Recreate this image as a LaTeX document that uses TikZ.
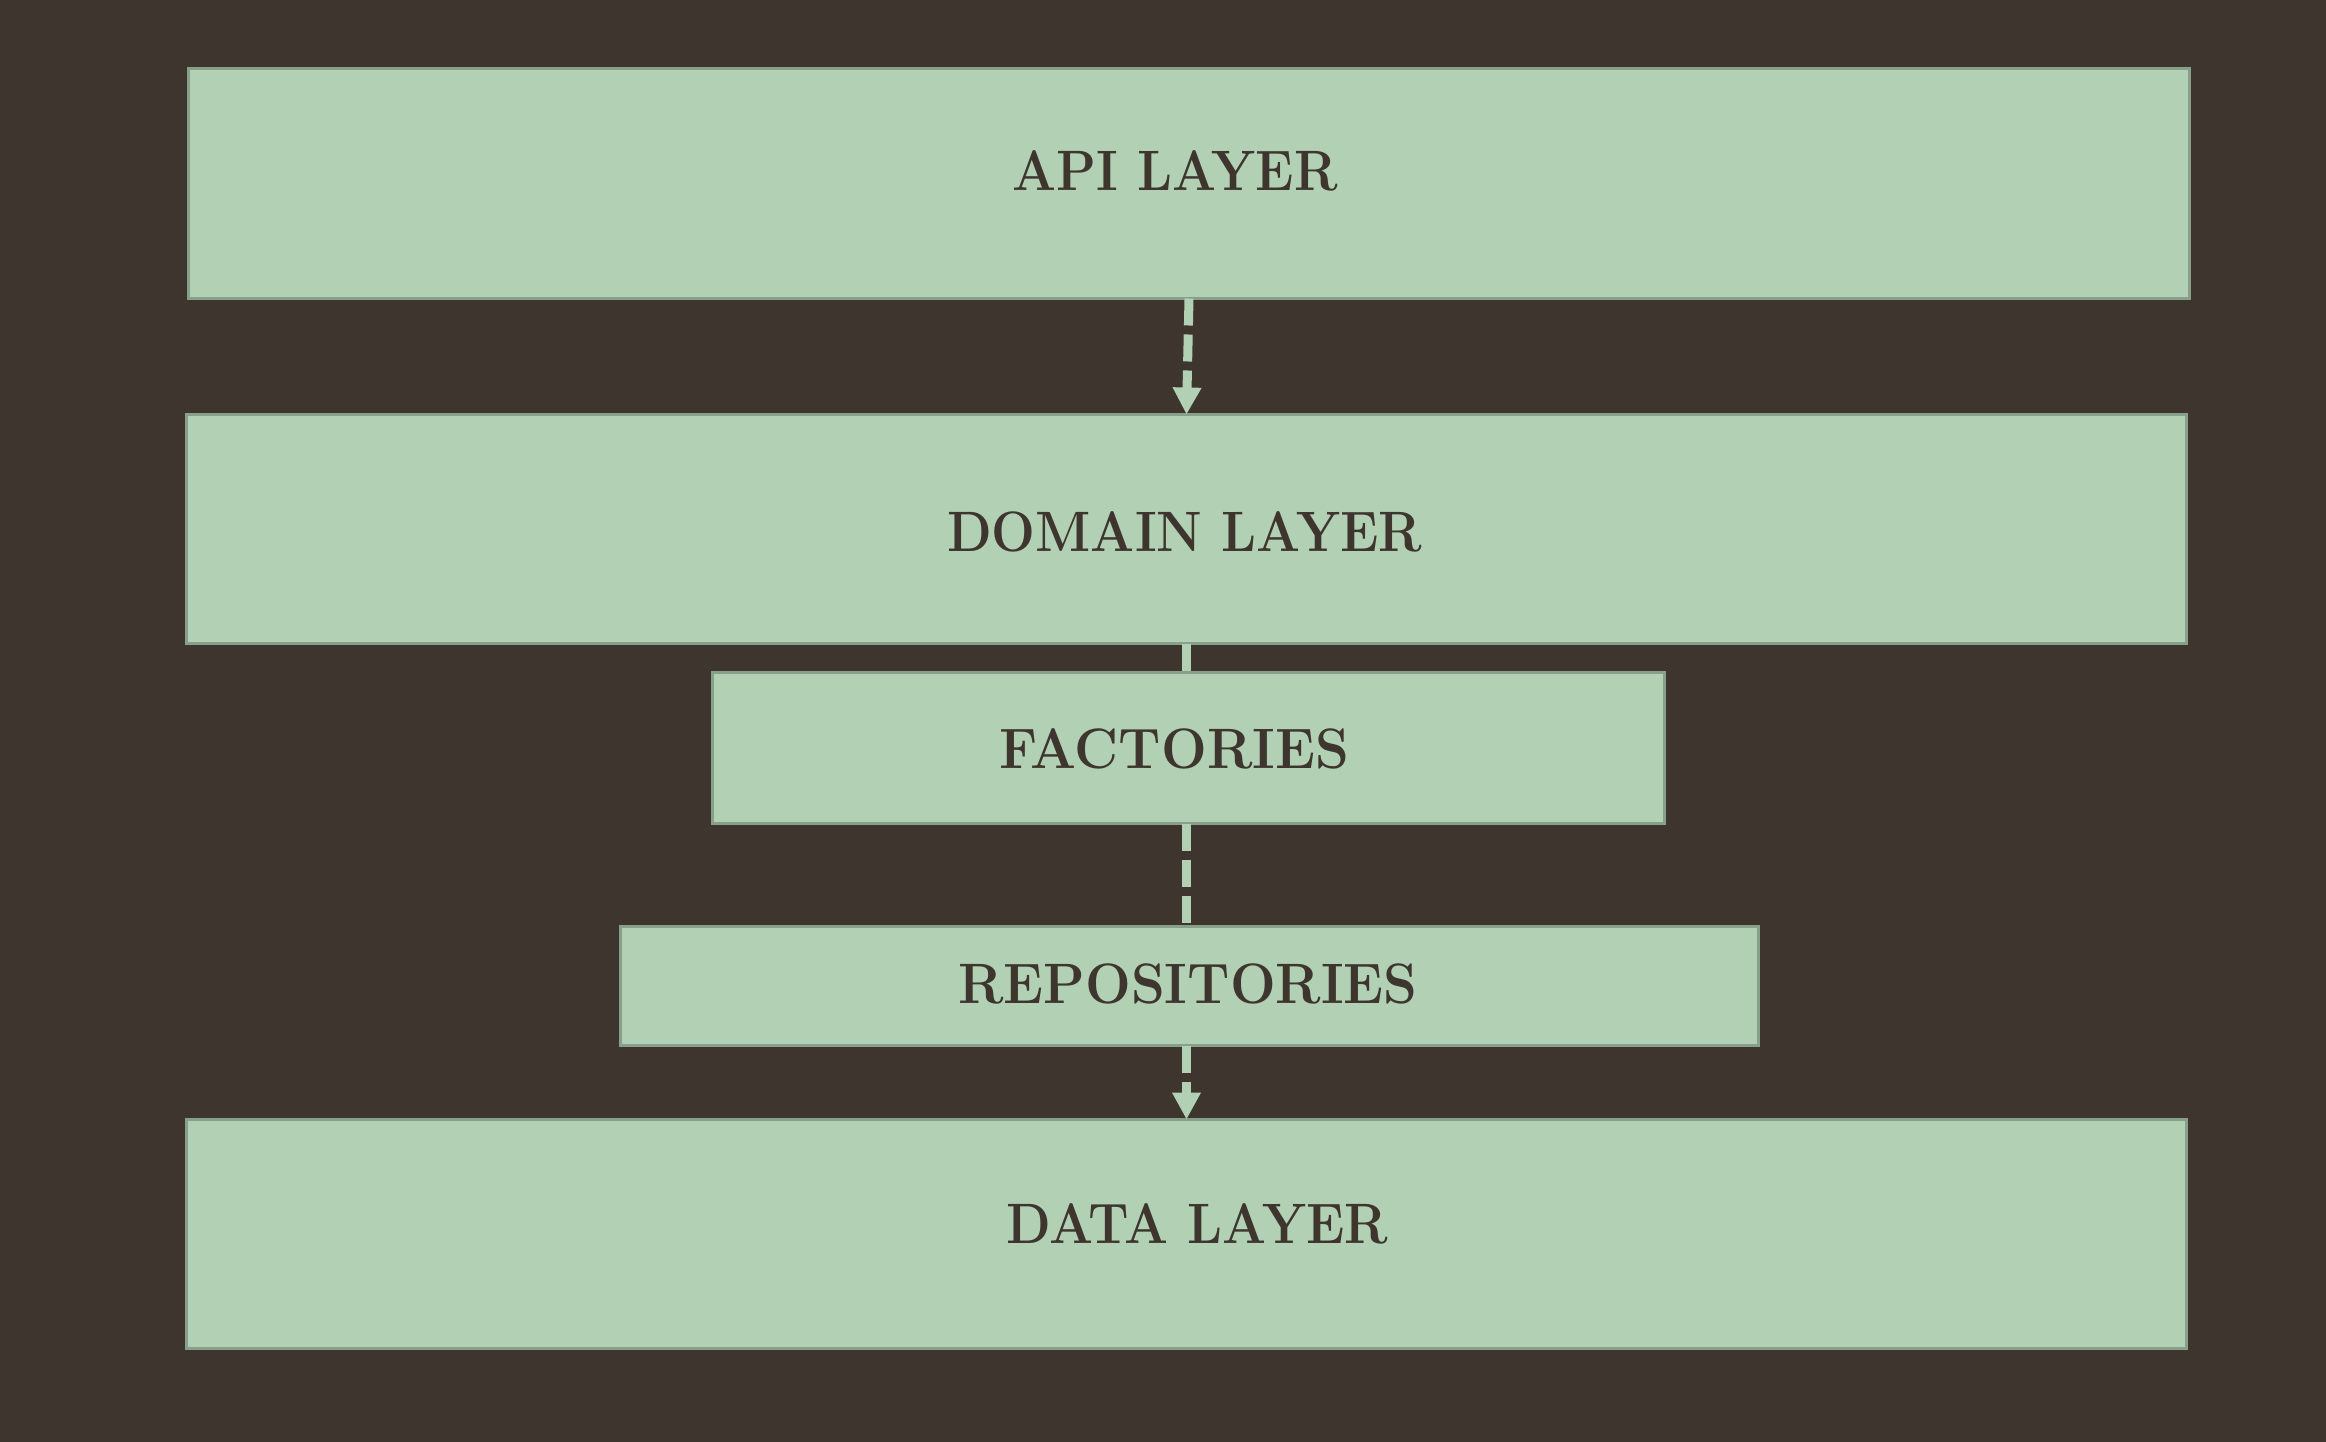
\documentclass[tikz,border=0pt]{standalone}
\usepackage{graphicx}
\usetikzlibrary{arrows.meta}
\definecolor{bgc}{HTML}{3E362E}
\definecolor{boxfill}{HTML}{B1D0B4}
\definecolor{boxline}{HTML}{889F8A}
\newcommand{\lbltext}[2][0.91]{\scalebox{#1}[1]{#2}}
\tikzset{
  layerbox/.style={draw=boxline, fill=boxfill, line width=3pt, rectangle, inner sep=0pt, outer sep=0pt},
  layertext/.style={anchor=base, inner sep=0pt, text=bgc, font=\fontsize{57}{60}\selectfont\bfseries},
  conn/.style={draw=boxfill, line width=9pt, dash pattern=on 27pt off 9pt},
  connarrow/.style={conn, -{Triangle[width=27pt,length=27pt]}}
}
\begin{document}
\begin{tikzpicture}[x=1pt,y=-1pt]
\fill[bgc] (0,0) rectangle (2326,1442);
\useasboundingbox (0,0) rectangle (2326,1442);
\node[layerbox, minimum width=2001pt, minimum height=230pt] (api) at (1189,183.5) {};
\node[layerbox, minimum width=2000pt, minimum height=229pt] (domain) at (1186.5,529) {};
\node[layerbox, minimum width=952pt, minimum height=151pt] (factories) at (1188.5,748) {};
\node[layerbox, minimum width=1138pt, minimum height=119pt] (repos) at (1189.5,986) {};
\node[layerbox, minimum width=2000pt, minimum height=229pt] (data) at (1186.5,1234) {};
\node[layertext] (apit) at (1175,191) {\lbltext{API LAYER}};
\node[layertext] (domaint) at (1184.5,551) {\lbltext{DOMAIN LAYER}};
\node[layertext] (factoriest) at (1174,768) {\lbltext[0.95]{FACTORIES}};
\node[layertext] (repost) at (1188,1003) {\lbltext[0.95]{REPOSITORIES}};
\node[layertext] (datat) at (1197,1243) {\lbltext{DATA LAYER}};
\draw[connarrow] (api.south) -- (domain.north);
\draw[conn] (domain.south) -- (domain.south |- factories.north);
\draw[conn] (domain.south |- factories.south) -- (domain.south |- repos.north);
\draw[connarrow] (domain.south |- repos.south) -- (data.north);
\end{tikzpicture}
\end{document}
